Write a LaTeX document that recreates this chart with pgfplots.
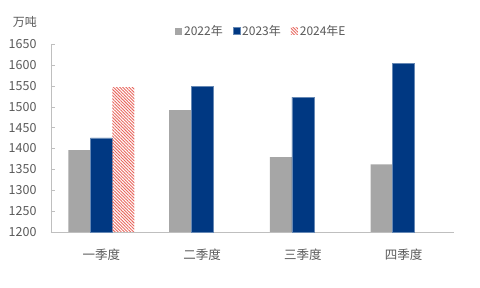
\documentclass[border=0pt]{standalone}
\usepackage{fontspec}
\setmainfont{Noto Sans CJK SC}
\usepackage{pgfplots}
\pgfplotsset{compat=1.18}
\usetikzlibrary{patterns.meta}
\definecolor{g22}{HTML}{A6A6A6}
\definecolor{b23}{HTML}{003882}
\definecolor{r24}{HTML}{E8675E}
\definecolor{txt}{HTML}{595959}
\definecolor{axl}{HTML}{BFBFBF}
\begin{document}
\begin{tikzpicture}
\begin{axis}[
  scale only axis, width=403pt, height=188pt,
  xmin=-0.5, xmax=3.5, ymin=1200, ymax=1650,
  ytick={1200,1250,...,1650},
  xtick={0,1,2,3}, xticklabels={一季度,二季度,三季度,四季度},
  major x tick style={draw=none},
  extra x ticks={0.5,1.5,2.5,3.5}, extra x tick labels={},
  extra x tick style={major tick length=3pt, tick style={axl}},
  tick align=inside, tick pos=left,
  major tick length=4pt,
  axis x line*=bottom, axis y line*=left,
  axis line style={axl, line width=0.8pt},
  y tick style={axl},
  tick label style={font=\fontsize{12.5}{14}\selectfont, text=txt},
  /pgf/number format/assume math mode=true,
  /pgf/number format/1000 sep={},
  yticklabel style={xshift=-11pt},
  xticklabel style={yshift=-9pt},
  ybar, bar width=22pt,
  legend columns=3,
  legend style={draw=none, at={(rel axis cs:0.522,1.069)}, anchor=center,
    font=\fontsize{12}{14}\selectfont, text=txt,
    /tikz/every even column/.append style={column sep=8pt}},
  legend image code/.code={\fill[#1] (0pt,-3.5pt) rectangle (7pt,3.5pt);},
  clip=false,
]
\addplot[fill=g22, draw=none, bar shift=-22pt] coordinates {(0,1396) (1,1492) (2,1379) (3,1362)};
\addplot[fill=b23, draw=b23!60!white, line width=0.4pt, bar shift=0pt] coordinates {(0,1425) (1,1548) (2,1523) (3,1604)};
\addplot[draw=none, pattern={Lines[angle=-45,distance=2.2pt,line width=0.9pt]}, pattern color=r24, bar shift=22pt] coordinates {(0,1547)};
\legend{2022年,2023年,2024年E}
\coordinate (O) at (rel axis cs:0,0);
\coordinate (T) at (rel axis cs:0,1);
\end{axis}
\node[text=txt, font=\fontsize{12}{14}\selectfont] at ([xshift=-26pt,yshift=22pt]T) {万吨};
\pgfresetboundingbox
\path[use as bounding box] ([xshift=-51pt,yshift=-56pt]O) rectangle ++(480pt,288pt);
\end{tikzpicture}
\end{document}
